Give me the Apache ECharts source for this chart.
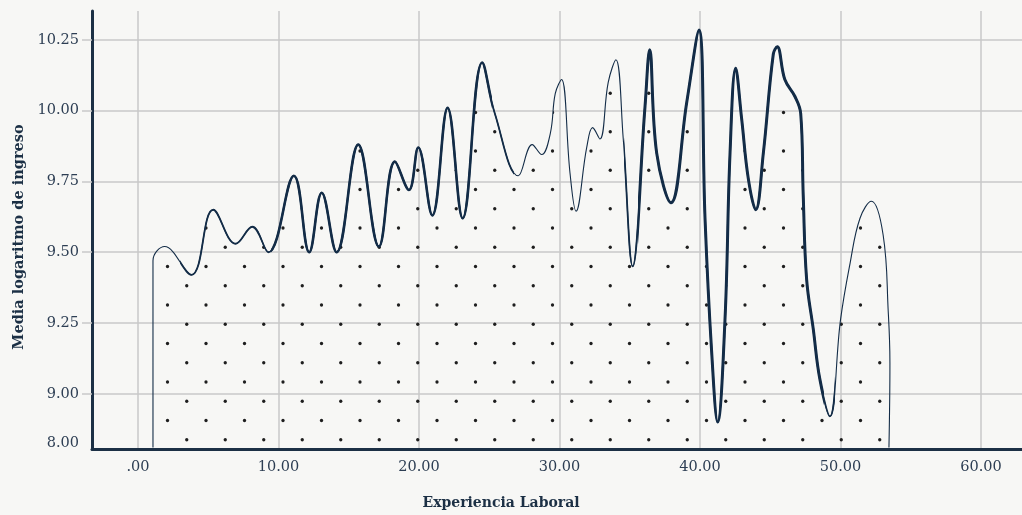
<!DOCTYPE html>
<html>
<head>
<meta charset="utf-8">
<script src="https://cdn.jsdelivr.net/npm/echarts@6/dist/echarts.min.js"></script>
<style>
  html, body { margin: 0; padding: 0; background: #f7f7f5; }
  #chart { width: 1022px; height: 515px; }
</style>
</head>
<body>
<div id="chart"></div>
<script>
// curve: years of experience vs mean log income
const experiencia = [1.07, 1.07, 1.9, 3.8, 5.36, 6.96, 8.14, 9.28, 11.1, 12.19, 13.08, 14.14, 15.68, 17.15, 18.29, 19.29, 19.95, 20.95, 22.04, 23.11, 24.5, 25.4, 27.07, 28.06, 28.73, 29.35, 29.7, 30.15, 30.75, 31.18, 31.94, 32.36, 32.88, 33.47, 34.02, 34.54, 35.21, 36.09, 36.42, 36.92, 37.94, 39.06, 39.93, 40.36, 40.83, 41.26, 41.78, 42.14, 42.54, 42.97, 43.44, 43.97, 44.51, 45.22, 45.5, 46.04, 46.76, 47.17, 47.35, 47.59, 48.06, 48.54, 49.25, 50.0, 50.68, 51.39, 52.2, 53.04, 53.4, 53.52, 53.45]
const ingreso = [8.81, 9.47, 9.52, 9.42, 9.65, 9.53, 9.59, 9.5, 9.77, 9.5, 9.71, 9.5, 9.88, 9.52, 9.82, 9.72, 9.87, 9.63, 10.01, 9.62, 10.17, 9.99, 9.77, 9.88, 9.845, 9.92, 10.06, 10.11, 9.78, 9.645, 9.87, 9.94, 9.9, 10.1, 10.18, 9.9, 9.45, 10.015, 10.215, 9.85, 9.675, 10.03, 10.285, 9.62, 9.15, 8.9, 9.26, 9.85, 10.15, 9.97, 9.76, 9.65, 9.85, 10.2, 10.226, 10.11, 10.05, 9.99, 9.7, 9.405, 9.23, 9.05, 8.92, 9.26, 9.46, 9.62, 9.68, 9.56, 9.29, 9.11, 8.81]

const xTickValues = [0, 10, 20, 30, 40, 50, 60]
const xTickLabels = ['.00', '10.00', '20.00', '30.00', '40.00', '50.00', '60.00']
const yGridValues = [9, 9.25, 9.5, 9.75, 10, 10.25]
const yTickValues = [8.824, 9, 9.25, 9.5, 9.75, 10, 10.25]
const yTickLabels = ['8.00', '9.00', '9.25', '9.50', '9.75', '10.00', '10.25']

const FONT = 'DejaVu Serif'
const INK = '#132c47'
const AXIS = '#1c3045'
const GRID = '#c9c9c9'
const LABEL = '#2d3e53'

// dotted fill tile
const tile = document.createElement('canvas')
tile.width = 77
tile.height = 77
const g = tile.getContext('2d')
g.fillStyle = '#1e1e1e'
;[[13.5, 35.5], [52, 35.5], [13.5, 74], [52, 74], [32.75, 16.25], [71.25, 16.25], [32.75, 54.75], [71.25, 54.75]].forEach(function (d) {
  g.beginPath()
  g.arc(d[0], d[1], 1.65, 0, Math.PI * 2)
  g.fill()
})

const points = experiencia.map(function (x, i) { return [x, ingreso[i]] })

// the line gets thicker over some x ranges; each tier is the same curve, masked by x
const tiers = [
  { width: 1.8, ranges: [[3.0, 26.8], [34.6, 49.6]] },
  { width: 2.6, ranges: [[9.5, 25.2]] },
  { width: 3.0, ranges: [[35.6, 48.8]] }
]

function labelFor (values, labels) {
  return function (v) {
    for (let i = 0; i < values.length; i++) {
      if (Math.abs(values[i] - v) < 1e-6) return labels[i]
    }
    return ''
  }
}

const series = [{
  type: 'line',
  data: points,
  smooth: 0.4,
  symbol: 'none',
  silent: true,
  z: 2,
  lineStyle: { color: INK, width: 1.1 },
  areaStyle: { color: { image: tile, repeat: 'repeat' }, opacity: 1, origin: 'start' }
}]
const visualMap = []
tiers.forEach(function (t, k) {
  series.push({
    type: 'line',
    data: points,
    smooth: 0.4,
    symbol: 'none',
    silent: true,
    z: 3 + k,
    lineStyle: { width: t.width }
  })
  visualMap.push({
    type: 'piecewise',
    show: false,
    dimension: 0,
    seriesIndex: k + 1,
    pieces: t.ranges.map(function (r) { return { gte: r[0], lte: r[1], color: INK } }),
    outOfRange: { color: 'rgba(0,0,0,0)' }
  })
})

const chart = echarts.init(document.getElementById('chart'))
chart.setOption({
  animation: false,
  backgroundColor: '#f7f7f5',
  grid: { left: 92, right: 0, top: 11, bottom: 64.5 },
  visualMap: visualMap,
  xAxis: {
    type: 'value',
    min: -3.27,
    max: 62.92,
    splitNumber: 7,
    name: 'Experiencia Laboral',
    nameLocation: 'middle',
    nameGap: 47,
    nameTextStyle: { fontFamily: FONT, fontWeight: 'bold', fontSize: 14, color: AXIS, padding: [0, 112, 0, 0] },
    axisLine: { show: true, onZero: false, lineStyle: { color: AXIS, width: 3 } },
    axisTick: { show: false, customValues: xTickValues },
    axisLabel: { customValues: xTickValues, formatter: labelFor(xTickValues, xTickLabels), margin: 11, fontFamily: FONT, fontSize: 14.5, color: LABEL },
    splitLine: { show: true, lineStyle: { color: GRID, width: 1.5 } }
  },
  yAxis: {
    type: 'value',
    min: 8.805,
    max: 10.352,
    name: 'Media logaritmo de ingreso',
    nameLocation: 'middle',
    nameGap: 64,
    nameTextStyle: { fontFamily: FONT, fontWeight: 'bold', fontSize: 14.5, color: AXIS, padding: [0, 14, 0, 0] },
    axisLine: { show: true, onZero: false, lineStyle: { color: AXIS, width: 3 } },
    axisTick: { show: true, length: 10, customValues: yGridValues, lineStyle: { color: GRID, width: 1.5 } },
    axisLabel: { customValues: yTickValues, formatter: labelFor(yTickValues, yTickLabels), margin: 13, fontFamily: FONT, fontSize: 14.5, color: LABEL },
    splitLine: { show: true, lineStyle: { color: GRID, width: 1.5 } }
  },
  series: series
})
</script>
</body>
</html>
